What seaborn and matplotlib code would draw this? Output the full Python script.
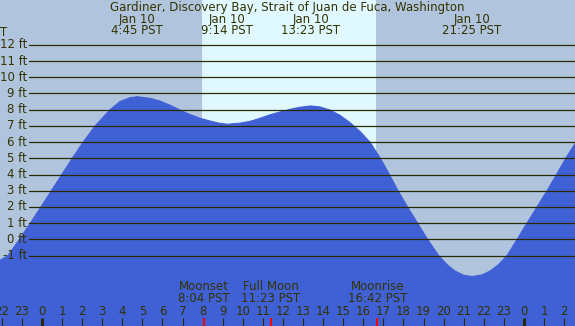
import matplotlib
matplotlib.use("Agg")
import matplotlib.pyplot as plt
import seaborn as sns
import pandas as pd

# tide height (hours from midnight Jan 10, feet)
tide_hours = [-2.09, -1.69, -1.12, -0.58, -0.05, 0.47, 0.99, 1.51, 2.05, 2.65,
              3.39, 3.88, 4.38, 4.75, 5.38, 5.88, 6.37, 6.87, 7.37, 7.87,
              8.37, 8.80, 9.23, 9.86, 10.36, 10.86, 11.35, 11.85, 12.35, 12.85,
              13.38, 13.84, 14.34, 14.84, 15.34, 15.84, 16.33, 16.85, 17.30, 17.73,
              18.20, 18.70, 19.20, 19.75, 20.20, 20.57, 21.00, 21.42, 21.90, 22.31,
              22.70, 23.16, 23.66, 24.15, 24.65, 25.15, 25.62, 26.08, 26.54]
tide_ft = [-1.3, -1.0, 0.0, 1.0, 2.0, 3.0, 4.0, 5.0, 6.0, 7.0,
           8.0, 8.5, 8.74, 8.8, 8.7, 8.53, 8.28, 7.98, 7.7, 7.47,
           7.3, 7.17, 7.1, 7.17, 7.28, 7.47, 7.68, 7.86, 8.02, 8.15,
           8.23, 8.17, 7.98, 7.65, 7.2, 6.65, 6.0, 5.0, 4.0, 3.0,
           2.0, 1.0, 0.0, -1.0, -1.6, -1.96, -2.22, -2.3, -2.2, -1.96,
           -1.6, -1.0, 0.0, 1.0, 2.0, 3.0, 4.0, 5.0, 5.9]

# high / low tide events
event_hours = [4.75, 9.233, 13.383, 21.417]
event_labels = ["Jan 10\n4:45 PST", "Jan 10\n9:14 PST", "Jan 10\n13:23 PST", "Jan 10\n21:25 PST"]

# moon events
moon_hours = [8.067, 11.383, 16.7]
moon_labels = ["Moonset\n8:04 PST", "Full Moon\n11:23 PST", "Moonrise\n16:42 PST"]

# daylight
sunrise, sunset = 7.97, 16.63

ft_levels = list(range(-1, 13))
hour_ticks = list(range(-2, 27))

title = "Gardiner, Discovery Bay, Strait of Juan de Fuca, Washington"

night_col = "#B0C4DE"
day_col = "#E0F8FF"
water_col = "#4060D6"
ink = "#333300"
fs = 8.5

sns.set_style("white")
plt.rcParams['font.family'] = ['DejaVu Sans']

df = pd.DataFrame({"hour": tide_hours, "ft": tide_ft})

fig = plt.figure(figsize=(5.75, 3.26), dpi=100)
ax = fig.add_axes([0, 0, 1, 1])
ax.set_facecolor(night_col)
xmin, xmax = -2.09, 26.54
ymin, ymax = -5.35, 14.77
ax.set_xlim(xmin, xmax)
ax.set_ylim(ymin, ymax)

ax.axvspan(sunrise, sunset, color=day_col, lw=0, zorder=1)
ax.fill_between(df["hour"], ymin, df["ft"], color=water_col, lw=0, zorder=2)
sns.lineplot(data=df, x="hour", y="ft", color=water_col, lw=0.8, ax=ax, zorder=2)

# horizontal grid lines with labels
ytrans = ax.get_yaxis_transform()
for lev in ft_levels:
    ax.axhline(lev, xmin=29 / 575, xmax=1, color="#2B2B00", lw=0.9, zorder=3)
    ax.text(27 / 575, lev, f"{lev} ft", transform=ytrans, ha="right", va="center",
            fontsize=fs, color=ink, zorder=4)

ax.text(0.0, 1 - 32 / 326, "T", transform=ax.transAxes, ha="left", va="center",
        fontsize=fs, color=ink)
ax.text(0.5, 1 - 7 / 326, title, transform=ax.transAxes, ha="center", va="center",
        fontsize=fs, color=ink)

xtrans = ax.get_xaxis_transform()
for h, lab in zip(event_hours, event_labels):
    ax.text(h, 1 - 25 / 326, lab, transform=xtrans, ha="center", va="center",
            fontsize=fs, color=ink, linespacing=0.85)

for h, lab in zip(moon_hours, moon_labels):
    ax.text(h, 33.5 / 326, lab, transform=xtrans, ha="center", va="center",
            fontsize=fs, color=ink, linespacing=0.85)
    ax.vlines(h, 0, 8 / 326, transform=xtrans, color="red", lw=1.4, zorder=5)

# hour ticks and labels
for h in hour_ticks:
    ax.text(h, 14.5 / 326, str(h % 24), transform=xtrans, ha="center", va="center",
            fontsize=fs, color=ink)
    thick = h % 24 == 0
    ax.vlines(h, 0, 8 / 326, transform=xtrans, color="#2B2B00",
              lw=2.2 if thick else 0.8, zorder=4)

ax.set_xlabel("")
ax.set_ylabel("")
ax.set_xticks([])
ax.set_yticks([])
for s in ax.spines.values():
    s.set_visible(False)

fig.savefig("out.png", dpi=100)
